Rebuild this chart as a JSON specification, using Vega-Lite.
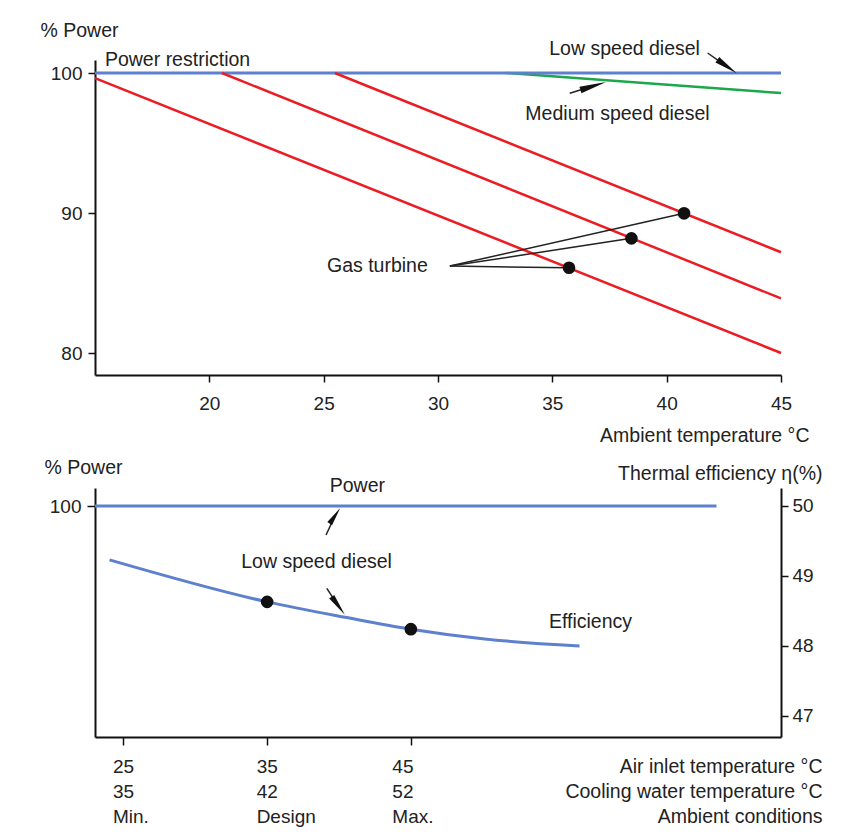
{
  "$schema": "https://vega.github.io/schema/vega-lite/v6.json",
  "padding": {"left": 40, "top": 20, "right": 5, "bottom": 5},
  "background": "white",
  "bounds": "flush",
  "spacing": 113,
  "config": {
    "view": {"stroke": null},
    "font": "Liberation Sans",
    "text": {"font": "Liberation Sans", "fontSize": 19.5, "color": "#222"},
    "axis": {
      "domainColor": "#111", "domainWidth": 2, "tickColor": "#111", "tickWidth": 1.5,
      "labelColor": "#222", "titleColor": "#222", "labelFont": "Liberation Sans", "titleFont": "Liberation Sans",
      "labelFontSize": 19, "titleFontSize": 19.5, "titleFontWeight": "normal", "grid": false,
      "labelFlush": false, "labelOverlap": false
    }
  },
  "vconcat": [
    {
      "width": 686,
      "height": 315,
      "layer": [
        {
          "data": {"values": [{"t": 33.0, "p": 100}, {"t": 39, "p": 99.29}, {"t": 45, "p": 98.57}]},
          "mark": {"type": "line", "color": "#1ca74b", "strokeWidth": 2.5},
          "encoding": {
            "x": {"field": "t", "type": "quantitative", "scale": {"domain": [15, 45], "nice": false, "zero": false},
              "axis": {"values": [20, 25, 30, 35, 40, 45], "tickSize": 7, "labelPadding": 12, "labelBaseline": "top",
                "title": "Ambient temperature °C", "titleX": 714, "titleY": 60, "titleAlign": "right", "titleAnchor": null, "titleBaseline": "middle"}},
            "y": {"field": "p", "type": "quantitative", "scale": {"domain": [78.43, 100.93], "nice": false, "zero": false},
              "axis": {"values": [80, 90, 100], "tickSize": 7, "labelPadding": 6,
                "title": "% Power", "titleAngle": 0, "titleAlign": "left", "titleBaseline": "middle", "titleX": -55, "titleY": -30, "titleAnchor": null}}
          }
        },
        {
          "data": {"values": [{"t": 15, "p": 100}, {"t": 45, "p": 100}]},
          "mark": {"type": "line", "color": "#5d80cf", "strokeWidth": 3},
          "encoding": {"x": {"field": "t", "type": "quantitative"}, "y": {"field": "p", "type": "quantitative"}}
        },
        {
          "data": {"values": [
            {"g": "A", "t": 15, "p": 99.64}, {"g": "A", "t": 45, "p": 80.0},
            {"g": "B", "t": 20.55, "p": 100}, {"g": "B", "t": 45, "p": 83.9},
            {"g": "C", "t": 25.49, "p": 100}, {"g": "C", "t": 45, "p": 87.2}
          ]},
          "mark": {"type": "line", "color": "#ec1c24", "strokeWidth": 2.5},
          "encoding": {"x": {"field": "t", "type": "quantitative"}, "y": {"field": "p", "type": "quantitative"}, "detail": {"field": "g"}}
        },
        {
          "data": {"values": [
            {"t": 30.52, "p": 86.21, "t2": 35.73, "p2": 86.09},
            {"t": 30.52, "p": 86.21, "t2": 38.46, "p2": 88.19},
            {"t": 30.52, "p": 86.21, "t2": 40.76, "p2": 89.98},
            {"t": 41.79, "p": 101.43, "t2": 42.64, "p2": 100.46},
            {"t": 35.76, "p": 98.55, "t2": 36.79, "p2": 99.07}
          ]},
          "mark": {"type": "rule", "color": "#222", "strokeWidth": 1.5},
          "encoding": {"x": {"field": "t", "type": "quantitative"}, "y": {"field": "p", "type": "quantitative"}, "x2": {"field": "t2"}, "y2": {"field": "p2"}}
        },
        {
          "data": {"values": [{"t": 35.73, "p": 86.09}, {"t": 38.46, "p": 88.19}, {"t": 40.76, "p": 89.98}]},
          "mark": {"type": "point", "filled": true, "color": "#111", "opacity": 1, "size": 160},
          "encoding": {"x": {"field": "t", "type": "quantitative"}, "y": {"field": "p", "type": "quantitative"}}
        },
        {
          "data": {"values": [{"t": 42.64, "p": 100.46}]},
          "mark": {"type": "point", "filled": true, "color": "#111", "opacity": 1, "size": 560, "angle": 125, "shape": "M0,-1L-0.28,1L0.28,1Z"},
          "encoding": {"x": {"field": "t", "type": "quantitative"}, "y": {"field": "p", "type": "quantitative"}}
        },
        {
          "data": {"values": [{"t": 36.79, "p": 99.07}]},
          "mark": {"type": "point", "filled": true, "color": "#111", "opacity": 1, "size": 720, "angle": 73, "shape": "M0,-1L-0.26,1L0.26,1Z"},
          "encoding": {"x": {"field": "t", "type": "quantitative"}, "y": {"field": "p", "type": "quantitative"}}
        },
        {
          "data": {"values": [
            {"t": 18.61, "p": 100.93, "label": "Power restriction"},
            {"t": 38.16, "p": 101.75, "label": "Low speed diesel"},
            {"t": 37.85, "p": 97.07, "label": "Medium speed diesel"},
            {"t": 27.35, "p": 86.21, "label": "Gas turbine"}
          ]},
          "mark": {"type": "text", "align": "center", "baseline": "middle"},
          "encoding": {"x": {"field": "t", "type": "quantitative"}, "y": {"field": "p", "type": "quantitative"}, "text": {"field": "label"}}
        },
        {
          "mark": {"type": "rule", "color": "#111", "strokeWidth": 2},
          "encoding": {"x": {"datum": 45}}
        }
      ]
    },
    {
      "width": 686,
      "height": 249,
      "resolve": {"scale": {"y": "independent"}},
      "layer": [
        {
          "data": {"values": [{"a": 23.02, "pw": 100}, {"a": 66.27, "pw": 100}]},
          "mark": {"type": "line", "color": "#5d80cf", "strokeWidth": 3},
          "encoding": {
            "x": {"field": "a", "type": "quantitative", "scale": {"domain": [23.02, 70.76], "nice": false, "zero": false},
              "axis": {"values": [25, 35, 45], "tickSize": 8, "labelPadding": 12, "labelAlign": "left", "labelBaseline": "top", "labelLineHeight": 25,
                "labelOffset": {"condition": {"test": "datum.value == 45", "value": -19}, "value": -11},
                "labelExpr": "datum.value == 25 ? ['25', '35', 'Min.'] : datum.value == 35 ? ['35', '42', 'Design'] : ['45', '52', 'Max.']",
                "title": ["Air inlet temperature °C", "Cooling water temperature °C", "Ambient conditions"],
                "titleX": 727, "titleY": 20, "titleAlign": "right", "titleBaseline": "top", "titleLineHeight": 25, "titleAnchor": null}},
            "y": {"field": "pw", "type": "quantitative", "scale": {"domain": [90, 100.78], "nice": false, "zero": false},
              "axis": {"orient": "left", "values": [100], "tickSize": 8, "labelPadding": 6,
                "title": "% Power", "titleAngle": 0, "titleAlign": "left", "titleBaseline": "middle", "titleX": -51, "titleY": -21, "titleAnchor": null}}
          }
        },
        {
          "layer": [
            {
              "data": {"values": [
                {"a": 24.03, "e": 49.23}, {"a": 35, "e": 48.63}, {"a": 40.42, "e": 48.41},
                {"a": 45, "e": 48.24}, {"a": 50.14, "e": 48.10}, {"a": 56.74, "e": 48.0}
              ]},
              "mark": {"type": "line", "color": "#5d80cf", "strokeWidth": 3, "interpolate": "monotone"},
              "encoding": {
                "x": {"field": "a", "type": "quantitative"},
                "y": {"field": "e", "type": "quantitative", "scale": {"domain": [46.7, 50.257], "nice": false, "zero": false},
                  "axis": {"orient": "right", "values": [47, 48, 49, 50], "format": "d", "tickSize": 7, "labelPadding": 4,
                    "title": "Thermal efficiency η(%)", "titleAngle": 0, "titleAlign": "right", "titleBaseline": "middle", "titleX": 41, "titleY": -15, "titleAnchor": null}}
              }
            },
            {
              "data": {"values": [{"a": 35, "e": 48.63}, {"a": 45, "e": 48.24}]},
              "mark": {"type": "point", "filled": true, "color": "#111", "opacity": 1, "size": 160},
              "encoding": {"x": {"field": "a", "type": "quantitative"}, "y": {"field": "e", "type": "quantitative"}}
            },
            {
              "data": {"values": [
                {"a": 39.10, "e": 49.586, "a2": 39.72, "e2": 49.86},
                {"a": 39.15, "e": 48.824, "a2": 39.95, "e2": 48.574}
              ]},
              "mark": {"type": "rule", "color": "#222", "strokeWidth": 1.5},
              "encoding": {"x": {"field": "a", "type": "quantitative"}, "y": {"field": "e", "type": "quantitative"}, "x2": {"field": "a2"}, "y2": {"field": "e2"}}
            },
            {
              "data": {"values": [{"a": 39.72, "e": 49.86}]},
              "mark": {"type": "point", "filled": true, "color": "#111", "opacity": 1, "size": 360, "angle": 34, "shape": "M0,-1L-0.3,1L0.3,1Z"},
              "encoding": {"x": {"field": "a", "type": "quantitative"}, "y": {"field": "e", "type": "quantitative"}}
            },
            {
              "data": {"values": [{"a": 39.95, "e": 48.574}]},
              "mark": {"type": "point", "filled": true, "color": "#111", "opacity": 1, "size": 500, "angle": 144, "shape": "M0,-1L-0.28,1L0.28,1Z"},
              "encoding": {"x": {"field": "a", "type": "quantitative"}, "y": {"field": "e", "type": "quantitative"}}
            },
            {
              "data": {"values": [
                {"a": 41.28, "e": 50.286, "label": "Power"},
                {"a": 38.44, "e": 49.204, "label": "Low speed diesel"},
                {"a": 57.5, "e": 48.343, "label": "Efficiency"}
              ]},
              "mark": {"type": "text", "align": "center", "baseline": "middle"},
              "encoding": {"x": {"field": "a", "type": "quantitative"}, "y": {"field": "e", "type": "quantitative"}, "text": {"field": "label"}}
            }
          ]
        }
      ]
    }
  ]
}
